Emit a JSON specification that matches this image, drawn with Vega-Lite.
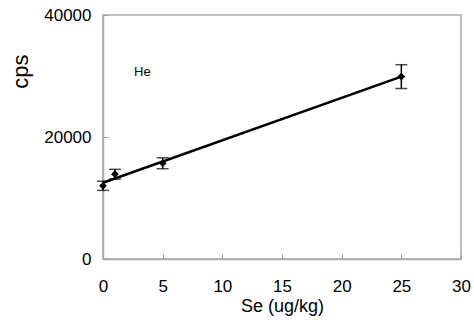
{
  "$schema": "https://vega.github.io/schema/vega-lite/v6.json",
  "width": 358,
  "height": 244,
  "autosize": {"type": "none"},
  "padding": {"left": 103, "top": 15, "right": 13, "bottom": 63},
  "background": "white",
  "config": {
    "view": {"stroke": "#aaaaaa", "strokeWidth": 1.5},
    "font": "Liberation Sans"
  },
  "datasets": {
    "pts": [
      {"x": 0, "y": 12000, "lo": 11250, "hi": 12750},
      {"x": 1, "y": 13900, "lo": 13100, "hi": 14700},
      {"x": 5, "y": 15700, "lo": 14800, "hi": 16600},
      {"x": 25, "y": 29900, "lo": 27950, "hi": 31850}
    ],
    "fit": [
      {"x": 0, "y": 12500},
      {"x": 25, "y": 29900}
    ],
    "lbl": [{"x": 3.3, "y": 30600, "t": "He"}]
  },
  "encoding": {
    "x": {
      "field": "x", "type": "quantitative",
      "scale": {"domain": [0, 30], "nice": false},
      "axis": {
        "title": "Se (ug/kg)", "titleFontSize": 18, "titleFontWeight": "normal", "titleColor": "black", "titlePadding": 3,
        "values": [0, 5, 10, 15, 20, 25, 30], "format": "d", "labelFontSize": 17, "labelColor": "black", "labelPadding": 24, "labelFlush": false,
        "grid": false, "tickSize": -5, "tickColor": "#999999", "domainColor": "#aaaaaa", "domainWidth": 1.5
      }
    },
    "y": {
      "field": "y", "type": "quantitative",
      "scale": {"domain": [0, 40000], "nice": false},
      "axis": {
        "title": "cps", "titleFontSize": 22, "titleFontWeight": "normal", "titleColor": "black",
        "titleX": -83, "titleY": 56, "titleAngle": 270, "titleAlign": "center", "titleBaseline": "middle",
        "values": [0, 20000, 40000], "format": "d", "labelFontSize": 17, "labelColor": "black", "labelPadding": 17, "labelFlush": false,
        "grid": false, "tickSize": -5, "tickColor": "#999999", "domainColor": "#aaaaaa", "domainWidth": 1.5
      }
    }
  },
  "layer": [
    {
      "data": {"name": "fit"},
      "mark": {"type": "line", "color": "black", "strokeWidth": 2.5}
    },
    {
      "data": {"name": "pts"},
      "mark": {"type": "errorbar", "ticks": {"size": 12, "color": "black", "thickness": 1.5}, "rule": {"color": "black", "strokeWidth": 1.5}},
      "encoding": {
        "y": {"field": "lo", "type": "quantitative"},
        "y2": {"field": "hi"}
      }
    },
    {
      "data": {"name": "pts"},
      "mark": {"type": "point", "shape": "diamond", "filled": true, "color": "black", "size": 60, "opacity": 1}
    },
    {
      "data": {"name": "lbl"},
      "mark": {"type": "text", "fontSize": 13, "color": "black", "align": "center", "baseline": "middle"},
      "encoding": {"text": {"field": "t"}}
    }
  ]
}
